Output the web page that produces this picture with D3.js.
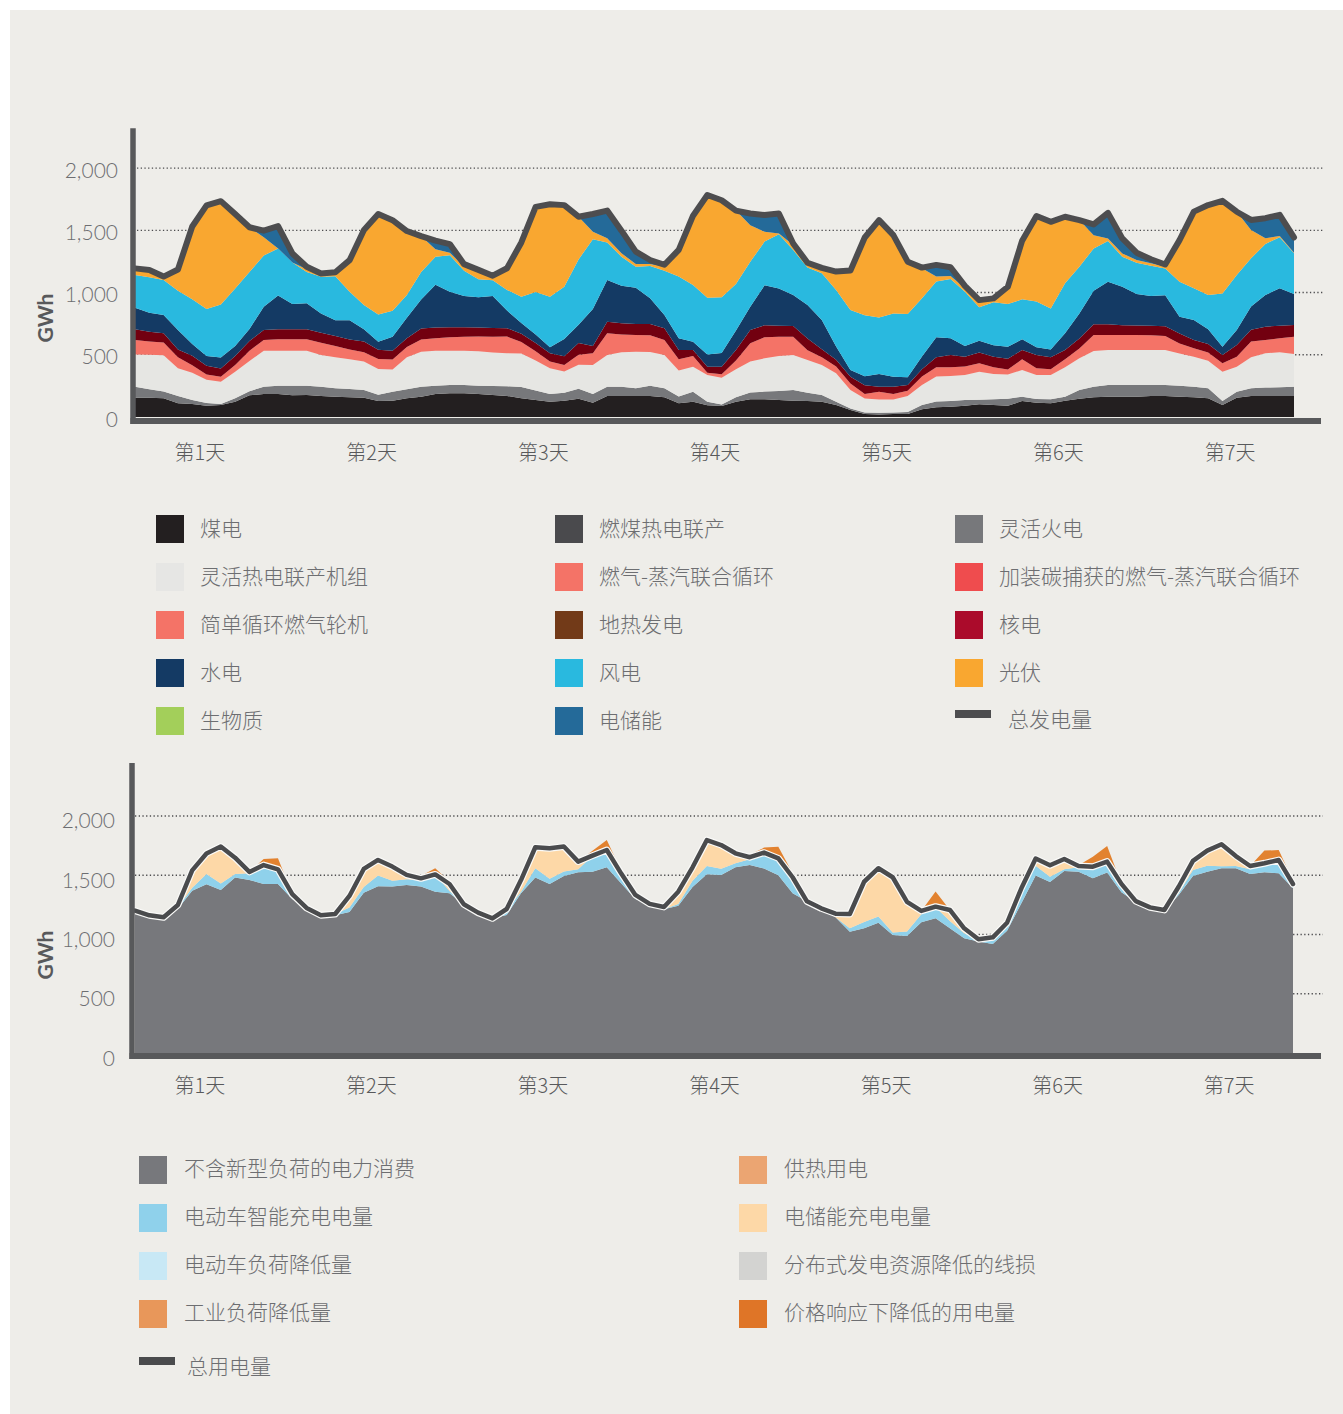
<!DOCTYPE html>
<html>
<head>
<meta charset="utf-8">
<script src="https://cdn.jsdelivr.net/npm/d3@7"></script>
<style>
  html, body { margin: 0; padding: 0; background: #ffffff; }
  svg { display: block; }
</style>
</head>
<body>
<svg id="chart" width="1343" height="1414"></svg>
<script>
// ---------- time axis (hour of the week, 2-hour steps) ----------
const hours = [3,5,7,9,11,13,15,17,19,21,23,25,27,29,31,33,35,37,39,41,43,45,47,49,51,53,55,57,59,61,63,65,67,69,71,73,75,77,79,81,83,85,87,89,91,93,95,97,99,101,103,105,107,109,111,113,115,117,119,121,123,125,127,129,131,133,135,137,139,141,143,145,147,149,151,153,155,157,159,161,163,165];
const dayTicks = [12, 36, 60, 84, 108, 132, 156];
const dayLabels = ['第1天','第2天','第3天','第4天','第5天','第6天','第7天'];
const yTicks = [0, 500, 1000, 1500, 2000];

// ---------- generation by source (GWh) ----------
const coal = [155,155,150,110,104,91,96,123,174,185,185,174,177,169,163,158,155,128,131,150,163,185,190,190,185,177,169,150,137,123,131,147,115,169,169,169,169,158,110,123,94,88,123,142,142,137,131,128,123,96,56,24,21,24,24,62,78,83,91,102,96,91,128,115,110,131,147,158,163,163,163,169,169,163,158,150,96,155,169,169,169,169];
const flexThermal = [88,67,54,59,32,21,8,27,32,59,67,78,75,75,67,67,62,51,72,72,80,67,67,67,67,72,78,91,75,62,64,80,70,75,75,62,83,72,54,80,29,13,35,54,62,72,86,67,54,27,13,13,13,13,16,35,46,46,46,37,46,56,35,29,32,32,70,86,94,94,94,88,88,88,86,80,32,48,62,67,70,75];
const flexCHP = [260,278,292,222,220,187,179,214,244,289,281,281,281,254,249,238,228,206,179,257,281,281,276,276,276,270,265,270,241,206,171,193,233,254,276,294,270,268,209,201,214,214,225,249,268,281,281,262,241,228,147,112,107,104,128,161,201,201,201,225,203,195,214,193,195,236,254,286,281,281,281,281,281,260,241,222,236,201,249,276,281,262];
const ccgt = [115,107,102,88,59,43,40,54,83,86,91,91,91,99,91,80,75,80,80,83,99,99,107,112,118,126,134,91,75,54,51,80,94,174,142,134,134,120,91,86,19,29,70,147,169,155,147,80,62,54,54,35,62,43,43,67,75,70,67,67,54,40,86,54,46,64,80,128,120,120,120,118,112,80,67,67,67,80,126,107,112,139];
const nuclear = [86,78,75,64,78,70,67,72,78,80,80,80,80,80,80,80,86,75,70,70,88,86,80,75,72,70,67,67,67,67,72,94,59,94,91,88,91,94,75,48,48,59,86,107,96,88,86,94,64,54,54,72,40,59,46,59,80,99,80,88,86,86,75,107,96,75,80,88,88,80,78,78,80,80,67,67,67,94,94,107,102,94];
const hydro = [174,153,147,155,94,78,88,80,96,187,273,203,209,155,128,155,99,64,112,166,233,345,286,252,244,257,142,86,67,48,137,147,297,335,302,292,206,107,94,67,99,112,155,187,321,300,249,268,236,107,54,72,102,80,62,102,161,134,86,94,91,96,86,62,64,134,201,268,340,308,252,238,249,134,161,118,67,120,187,254,300,249];
const wind = [262,284,281,316,359,377,426,463,458,412,377,335,252,294,353,228,195,220,209,182,220,225,294,203,145,126,166,211,343,407,420,525,559,300,233,169,260,356,495,455,455,447,375,361,351,436,361,302,375,455,482,490,455,509,509,468,447,476,436,268,345,343,321,367,329,402,375,340,327,241,252,244,214,281,254,276,428,442,388,410,410,327];
const solar = [53,59,27,171,584,833,830,597,359,145,0,0,21,27,32,254,602,806,728,514,289,59,19,32,62,37,174,436,683,742,656,343,62,35,27,21,16,32,214,557,825,779,589,294,80,5,40,19,27,147,316,624,782,629,420,241,40,24,27,37,24,139,471,688,696,535,375,107,21,27,21,19,13,335,616,723,744,509,228,46,11,5];
const storage = [0,0,0,0,0,0,0,0,0,54,179,72,21,0,0,0,0,0,0,0,0,70,70,21,13,0,0,0,0,0,0,0,142,222,182,99,32,16,0,0,0,0,0,94,134,161,13,19,16,0,0,0,0,0,0,5,94,70,19,21,8,0,0,0,0,0,0,86,206,120,59,32,19,0,0,0,0,0,80,161,169,123];
const totalGeneration = [1194,1181,1128,1185,1530,1700,1734,1630,1524,1497,1533,1314,1207,1153,1163,1260,1502,1630,1581,1494,1453,1417,1389,1228,1182,1135,1195,1402,1688,1709,1702,1609,1631,1658,1497,1328,1261,1223,1342,1617,1783,1741,1658,1635,1623,1635,1394,1239,1198,1168,1176,1442,1582,1461,1248,1200,1222,1203,1053,939,953,1046,1416,1615,1568,1609,1582,1547,1640,1434,1320,1267,1225,1421,1650,1703,1737,1649,1583,1597,1624,1443];

// ---------- consumption by use (GWh) ----------
const baseLoad = [1201,1162,1145,1218,1370,1423,1376,1480,1460,1426,1426,1300,1224,1159,1162,1190,1353,1407,1404,1418,1404,1361,1347,1255,1184,1136,1165,1347,1480,1426,1494,1525,1530,1567,1432,1300,1252,1213,1243,1401,1508,1502,1567,1587,1556,1499,1347,1280,1221,1145,1024,1052,1100,996,987,1103,1136,1052,968,940,920,1032,1263,1497,1443,1536,1530,1474,1522,1356,1274,1229,1201,1333,1494,1530,1558,1558,1511,1525,1516,1390];
const evSmartCharging = [0,0,0,11,25,87,55,30,56,160,124,17,0,3,11,37,48,90,50,48,56,146,20,0,0,0,42,14,79,45,37,25,135,146,84,34,6,0,14,53,70,53,34,48,135,143,113,0,0,0,28,53,51,20,39,68,93,62,42,14,28,42,127,82,45,14,37,98,93,34,8,0,6,14,51,51,17,20,39,62,84,28];
const storageCharging = [0,0,0,20,146,174,311,138,12,0,0,23,0,0,0,98,152,132,119,37,14,0,59,0,0,0,8,98,177,256,211,65,0,0,0,0,0,19,104,113,219,200,84,17,0,0,23,0,0,31,121,340,408,467,250,28,6,93,42,6,28,25,0,62,96,87,11,0,0,37,0,0,0,56,76,127,186,84,28,14,28,8];
const priceResponse = [0,0,0,0,0,0,0,0,0,50,93,0,0,0,0,0,0,0,0,0,20,51,20,0,0,0,0,0,0,0,0,0,42,84,23,0,0,0,0,0,0,0,0,20,42,98,34,0,0,0,0,0,0,0,0,0,127,0,0,0,0,0,0,0,0,0,6,84,132,0,0,0,0,0,0,0,0,0,0,107,84,28];
const totalConsumption = [1201,1162,1145,1249,1541,1684,1742,1648,1528,1586,1550,1340,1224,1162,1173,1325,1553,1629,1573,1503,1474,1507,1426,1255,1184,1136,1215,1459,1736,1727,1742,1615,1665,1713,1516,1334,1258,1232,1361,1567,1797,1755,1685,1652,1691,1642,1483,1280,1221,1176,1173,1445,1559,1483,1276,1199,1235,1207,1052,960,976,1099,1390,1641,1584,1637,1578,1572,1615,1427,1282,1229,1207,1403,1621,1708,1761,1662,1578,1601,1628,1426];

// ---------- legends ----------
const genLegendNames = ['煤电','燃煤热电联产','灵活火电','灵活热电联产机组','燃气-蒸汽联合循环','加装碳捕获的燃气-蒸汽联合循环','简单循环燃气轮机','地热发电','核电','水电','风电','光伏','生物质','电储能','总发电量'];
const genLegendColors = ['#231f20','#4a4a4d','#77787b','#e6e6e4','#f47367','#ef4c4e','#f47367','#723a18','#ab0b2b','#143a64','#29b9df','#f9a730','#a3cf5a','#246a99','#4d4d4f'];
const useLegendNames = ['不含新型负荷的电力消费','供热用电','电动车智能充电电量','电储能充电电量','电动车负荷降低量','分布式发电资源降低的线损','工业负荷降低量','价格响应下降低的用电量','总用电量'];
const useLegendColors = ['#77787c','#eba572','#8fd1eb','#fdd8a7','#c8e8f5','#d3d3d1','#e8975a','#df7527','#4a4b4d'];

// ---------- drawing ----------
const CJK = "'Noto Sans CJK SC','Noto Sans',sans-serif";
const NUM = "Lato,'Open Sans',sans-serif";
const svg = d3.select('#chart');
svg.append('rect').attr('x', 10).attr('y', 10).attr('width', 1333).attr('height', 1404).attr('fill', '#eeede9');

function drawPanel(p) {
  const g = svg.append('g');
  const x = p.x, y = p.y;

  // dotted gridlines
  g.selectAll('line.grid').data(yTicks.filter(v => v > 0)).join('line')
    .attr('x1', p.gridLeft).attr('x2', 1323)
    .attr('y1', d => y(d)).attr('y2', d => y(d))
    .attr('stroke', '#4d4d4f').attr('stroke-width', 1.3)
    .attr('stroke-dasharray', '1.3,2.4');

  // stacked areas
  const rows = hours.map((h, i) => {
    const r = { hour: h };
    p.series.forEach((s, k) => { r[p.keys[k]] = s[i]; });
    return r;
  });
  const stacked = d3.stack().keys(p.keys)(rows);
  const area = d3.area()
    .x(d => x(d.data.hour))
    .y0(d => y(d[0]))
    .y1(d => y(d[1]));
  g.selectAll('path.layer').data(stacked).join('path')
    .attr('d', area)
    .attr('fill', (d, i) => p.colors[i]);

  // total line
  const line = d3.line().x((d, i) => x(hours[i])).y(d => y(d));
  if (p.halo) {
    g.append('path').attr('d', line(p.total)).attr('fill', 'none')
      .attr('stroke', '#fafaf8').attr('stroke-width', p.lineWidth + 2.4)
      .attr('stroke-linejoin', 'round').attr('stroke-linecap', 'round');
  }
  g.append('path').attr('d', line(p.total)).attr('fill', 'none')
    .attr('stroke', p.lineColor).attr('stroke-width', p.lineWidth)
    .attr('stroke-linejoin', 'round').attr('stroke-linecap', 'round');

  // axis lines
  const yTop = y.range()[1];
  g.append('line').attr('x1', p.axisX).attr('x2', p.axisX)
    .attr('y1', yTop).attr('y2', p.axisY + 3)
    .attr('stroke', '#58595b').attr('stroke-width', 5.5);
  g.append('line').attr('x1', p.axisX - 2.5).attr('x2', 1321)
    .attr('y1', p.axisY).attr('y2', p.axisY)
    .attr('stroke', '#58595b').attr('stroke-width', 6);

  // y tick labels
  const ay = g.append('g').attr('transform', `translate(${p.axisX},0)`)
    .call(d3.axisLeft(y).tickValues(yTicks).tickFormat(d3.format(',')).tickSize(0).tickPadding(p.labelPad));
  ay.select('.domain').remove();
  ay.selectAll('text')
    .attr('font-family', NUM).attr('font-size', 21).attr('font-weight', 300)
    .attr('fill', '#6d6e71').attr('dy', null)
    .attr('dominant-baseline', 'central')
    .attr('y', p.labelShift);

  // day labels
  const ax = g.append('g').attr('transform', `translate(0,${p.axisY})`)
    .call(d3.axisBottom(x).tickValues(dayTicks).tickFormat((d, i) => dayLabels[i]).tickSize(0).tickPadding(p.dayPad));
  ax.select('.domain').remove();
  ax.selectAll('text')
    .attr('font-family', CJK).attr('font-size', 20).attr('font-weight', 300)
    .attr('fill', '#58595b');

  // unit label
  g.append('text')
    .attr('transform', `translate(44,${p.unitY}) rotate(-90)`)
    .attr('text-anchor', 'middle').attr('dominant-baseline', 'central')
    .attr('font-family', NUM).attr('font-weight', 700).attr('font-size', 21)
    .attr('fill', '#58595b').text('GWh');
}

// generation panel
drawPanel({
  x: d3.scaleLinear().domain([3, 165]).range([135, 1294]),
  y: d3.scaleLinear().domain([0, 2320]).range([417, 128.2]),
  keys: ['coal','flexThermal','flexCHP','ccgt','nuclear','hydro','wind','solar','storage'],
  series: [coal, flexThermal, flexCHP, ccgt, nuclear, hydro, wind, solar, storage],
  colors: ['#231f20','#77787b','#e6e6e3','#f47367','#720010','#143a64','#29b9df','#f9a730','#246a99'],
  total: totalGeneration, lineColor: '#4d4d4f', lineWidth: 6, halo: false,
  axisX: 133, axisY: 421, gridLeft: 137, labelPad: 15, labelShift: 0.5, dayPad: 25, unitY: 318
});

// consumption panel
drawPanel({
  x: d3.scaleLinear().domain([3, 165]).range([135, 1293]),
  y: d3.scaleLinear().domain([0, 2447]).range([1053, 763]),
  keys: ['baseLoad','evSmartCharging','storageCharging','priceResponse'],
  series: [baseLoad, evSmartCharging, storageCharging, priceResponse],
  colors: ['#77787c','#8fd1eb','#fdd8a7','#e2822f'],
  total: totalConsumption, lineColor: '#4a4b4d', lineWidth: 4.5, halo: true,
  axisX: 132, axisY: 1056, gridLeft: 135, labelPad: 17, labelShift: 3.5, dayPad: 23, unitY: 955
});

// generation legend (3 columns)
const genLeg = svg.append('g');
const genColX = [156, 555, 955];
genLegendNames.forEach((name, i) => {
  const col = i % 3, row = Math.floor(i / 3);
  const cy = 529 + row * 48;
  const isLine = i === genLegendNames.length - 1;
  if (isLine) {
    genLeg.append('rect').attr('x', genColX[col]).attr('y', cy - 11).attr('width', 36).attr('height', 8)
      .attr('fill', genLegendColors[i]);
  } else {
    genLeg.append('rect').attr('x', genColX[col]).attr('y', cy - 14).attr('width', 28).attr('height', 28)
      .attr('fill', genLegendColors[i]);
  }
  genLeg.append('text')
    .attr('x', genColX[col] + (isLine ? 53 : 44)).attr('y', cy - (isLine ? 3 : 2))
    .attr('dominant-baseline', 'central')
    .attr('font-family', CJK).attr('font-size', 21).attr('font-weight', 300)
    .attr('fill', '#6d6e71').text(name);
});

// consumption legend (2 columns)
const useLeg = svg.append('g');
const useColX = [139, 739];
useLegendNames.forEach((name, i) => {
  const col = i % 2, row = Math.floor(i / 2);
  const isLine = i === useLegendNames.length - 1;
  const cy = isLine ? 1368 : 1170 + row * 48;
  if (isLine) {
    useLeg.append('rect').attr('x', useColX[col]).attr('y', cy - 11).attr('width', 36).attr('height', 8)
      .attr('fill', useLegendColors[i]);
  } else {
    useLeg.append('rect').attr('x', useColX[col]).attr('y', cy - 14).attr('width', 28).attr('height', 28)
      .attr('fill', useLegendColors[i]);
  }
  useLeg.append('text')
    .attr('x', useColX[col] + (isLine ? 48 : 45)).attr('y', cy - 3)
    .attr('dominant-baseline', 'central')
    .attr('font-family', CJK).attr('font-size', 21).attr('font-weight', 300)
    .attr('fill', '#6d6e71').text(name);
});
</script>
</body>
</html>
